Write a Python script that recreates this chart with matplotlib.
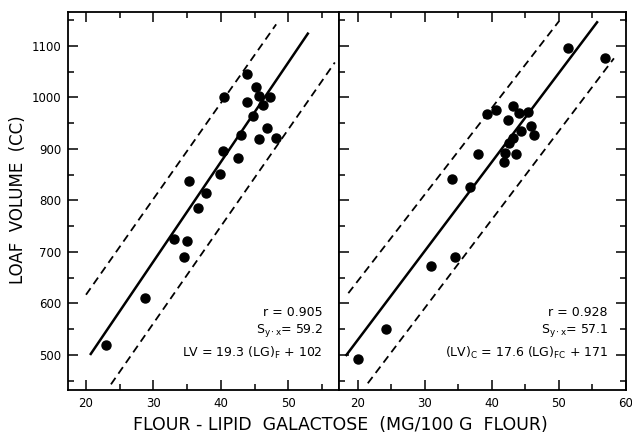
import matplotlib
matplotlib.use('Agg')
import matplotlib.pyplot as plt

plt.rcParams['font.family'] = 'DejaVu Sans'
plt.rcParams['mathtext.default'] = 'regular'

# left panel: flour-lipid galactose vs loaf volume
lg_f = [40.5, 43.9, 45.2, 45.6, 43.9, 47.3, 46.3, 44.8, 46.8, 43.0, 45.6, 48.2,
        40.3, 42.6, 39.8, 35.3, 37.8, 36.6, 33.1, 35.0, 34.5, 28.8, 22.9]
lv_f = [1000, 1046, 1020, 1002, 991, 1000, 986, 965, 940, 928, 920, 921,
        896, 883, 852, 837, 815, 786, 726, 722, 691, 611, 520]
fit_f_x = [20.6, 53.0]
fit_f_y = [500, 1126]
upper_f_x = [20.0, 48.2]
upper_f_y = [617, 1142]
lower_f_x = [23.7, 56.9]
lower_f_y = [443, 1068]

# right panel: corrected values
lg_fc = [51.4, 56.8, 39.3, 40.6, 43.2, 44.0, 45.4, 42.4, 45.9, 44.4, 46.3, 43.1,
         42.5, 38.0, 42.0, 43.6, 41.8, 34.1, 36.8, 30.9, 34.5, 24.2, 20.0]
lv_c = [1096, 1077, 968, 975, 983, 970, 971, 957, 945, 935, 928, 922,
        912, 890, 893, 890, 875, 842, 826, 673, 690, 550, 493]
fit_c_x = [18.2, 55.8]
fit_c_y = [498, 1148]
upper_c_x = [18.6, 50.0]
upper_c_y = [620, 1148]
lower_c_x = [21.5, 58.2]
lower_c_y = [445, 1076]

xticks_left = [20, 30, 40, 50]
xticks_right = [20, 30, 40, 50, 60]
xminor = [25, 35, 45, 55]
yticks = [500, 600, 700, 800, 900, 1000, 1100]
yminor = [450, 550, 650, 750, 850, 950, 1050, 1150]

fig = plt.figure(figsize=(6.32, 4.33), dpi=100)
ax1 = fig.add_axes([0.1076, 0.0993, 0.4288, 0.873])
ax2 = fig.add_axes([0.5364, 0.0993, 0.4541, 0.873])

dash = (4.4, 2.8)
panels = [
    (ax1, lg_f, lv_f, fit_f_x, fit_f_y, upper_f_x, upper_f_y, lower_f_x, lower_f_y,
     (17.33, 57.52), xticks_left),
    (ax2, lg_fc, lv_c, fit_c_x, fit_c_y, upper_c_x, upper_c_y, lower_c_x, lower_c_y,
     (17.21, 60.0), xticks_right),
]
for ax, x, y, fx, fy, ux, uy, lx, ly, xlim, xt in panels:
    ax.plot(fx, fy, color='black', lw=1.8, solid_capstyle='butt')
    ax.plot(ux, uy, color='black', lw=1.3, dashes=dash)
    ax.plot(lx, ly, color='black', lw=1.3, dashes=dash)
    ax.plot(x, y, 'o', color='black', ms=6.5, ls='none')
    ax.set_xlim(*xlim)
    ax.set_ylim(432, 1166)
    ax.set_xticks(xt)
    ax.set_xticks(xminor, minor=True)
    ax.set_yticks(yticks)
    ax.set_yticks(yminor, minor=True)
    for s in ax.spines.values():
        s.set_linewidth(1.3)
    ax.tick_params(which='both', direction='in', width=1.1, labelsize=8.5)
    ax.tick_params(which='major', length=7)
    ax.tick_params(which='minor', length=4)
    ax.tick_params(axis='x', pad=5)
    ax.tick_params(axis='y', pad=5)

ax1.tick_params(which='both', top=True, right=False)
ax2.tick_params(which='both', top=True, right=True, labelleft=False)

ax1.text(0.94, 0.196, 'r = 0.905', transform=ax1.transAxes, ha='right', va='baseline', fontsize=9)
ax1.text(0.94, 0.151, '$S_{y\\cdot x}$= 59.2', transform=ax1.transAxes, ha='right', va='baseline', fontsize=9)
ax1.text(0.94, 0.087, 'LV = 19.3 (LG)$_F$ + 102', transform=ax1.transAxes, ha='right', va='baseline', fontsize=9)

ax2.text(0.937, 0.196, 'r = 0.928', transform=ax2.transAxes, ha='right', va='baseline', fontsize=9)
ax2.text(0.937, 0.151, '$S_{y\\cdot x}$= 57.1', transform=ax2.transAxes, ha='right', va='baseline', fontsize=9)
ax2.text(0.937, 0.087, '(LV)$_C$ = 17.6 (LG)$_{FC}$ + 171', transform=ax2.transAxes, ha='right', va='baseline', fontsize=9)

fig.text(0.539, 0.019, 'FLOUR - LIPID  GALACTOSE  (MG/100 G  FLOUR)', ha='center', va='center', fontsize=12.5)
fig.text(0.029, 0.538, 'LOAF  VOLUME  (CC)', ha='center', va='center', rotation=90, fontsize=12)

fig.savefig('out.png', dpi=100)
